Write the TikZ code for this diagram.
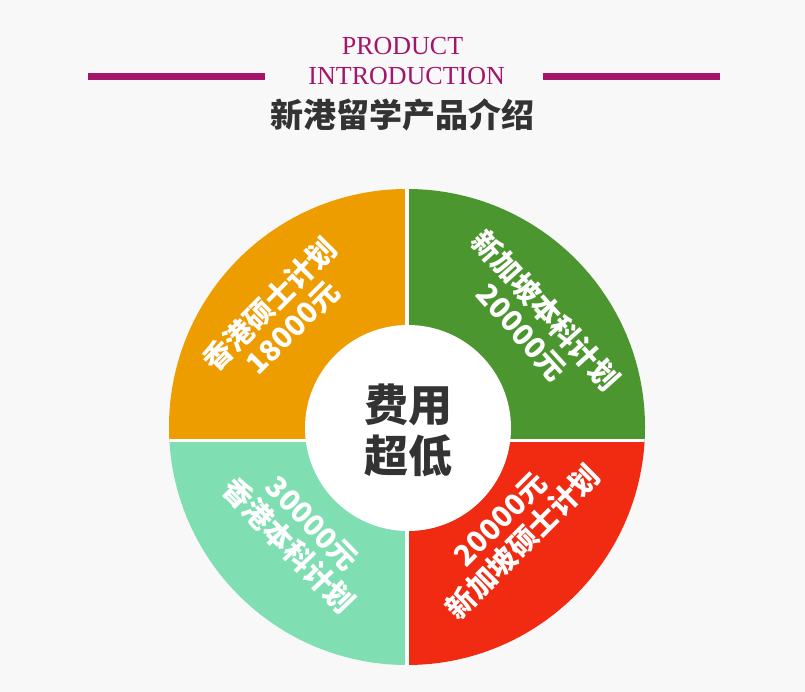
\documentclass[tikz,border=0pt]{standalone}
\usepackage{fontspec}
\setmainfont{Liberation Serif}
\newfontfamily\cjk{Noto Sans CJK SC}

\definecolor{bgpage}{HTML}{F8F8F8}
\definecolor{plum}{HTML}{A3156B}
\definecolor{orangeq}{HTML}{EE9D00}
\definecolor{greenq}{HTML}{4C962F}
\definecolor{redq}{HTML}{F02B12}
\definecolor{mintq}{HTML}{80DEB3}
\definecolor{darktxt}{HTML}{333333}

\tikzset{
  quarter/.style={white,font=\cjk\bfseries\fontsize{29}{32.5}\selectfont,align=center,inner sep=0pt},
  headline/.style={plum,font=\fontsize{26}{26}\selectfont,anchor=base,inner sep=0pt},
}

\begin{document}
\begin{tikzpicture}[x=1pt,y=1pt]
\useasboundingbox (0,0) rectangle (805,692);
\fill[bgpage] (0,0) rectangle (805,692);

\pgfmathsetmacro{\rout}{238};
\pgfmathsetmacro{\rin}{103};

\coordinate (o) at (407,265);
\coordinate (s) at (406.8,251.3);

% title
\fill[plum] (88,612) rectangle (265,618.7);
\fill[plum] (543,612) rectangle (720,618.7);
\node[headline] (product) at (402.5,637.5) {PRODUCT};
\node[headline] (intro) at (406.7,607) {INTRODUCTION};
\node[darktxt,font=\cjk\bfseries\fontsize{33}{33}\selectfont,inner sep=0pt] (title) at (402.5,576.7) {新港留学产品介绍};

% the four quarters
\begin{scope}
\clip (s) rectangle ++(-300,300);
\fill[orangeq] (o) circle (\rout);
\end{scope}
\begin{scope}
\clip (s) rectangle ++(300,300);
\fill[greenq] (o) circle (\rout);
\end{scope}
\begin{scope}
\clip (s) rectangle ++(300,-300);
\fill[redq] (o) circle (\rout);
\end{scope}
\begin{scope}
\clip (s) rectangle ++(-300,-300);
\fill[mintq] (o) circle (\rout);
\end{scope}

\begin{scope}
\clip (o) circle (\rout);
\draw[white,line width=4.5pt] (s |- 0,0) -- (s |- 0,692);
\draw[white,line width=3.5pt] (s -| 0,0) -- (s -| 805,0);
\end{scope}

\fill[white] (408,264) circle (\rin);
\node[darktxt,font=\cjk\bfseries\fontsize{44}{51}\selectfont,align=center,inner sep=0pt] (hub) at (408,261.5) {费用\\超低};

\node[quarter,rotate=45] (hkmaster) at (281,376) {香港硕士计划\\18000元};
\node[quarter,rotate=-48] (sgbachelor) at (534,371) {新加坡本科计划\\20000元};
\node[quarter,rotate=-46] (hkbachelor) at (300,157) {30000元\\香港本科计划};
\node[quarter,rotate=45] (sgmaster) at (512,161) {20000元\\新加坡硕士计划};

\end{tikzpicture}
\end{document}
